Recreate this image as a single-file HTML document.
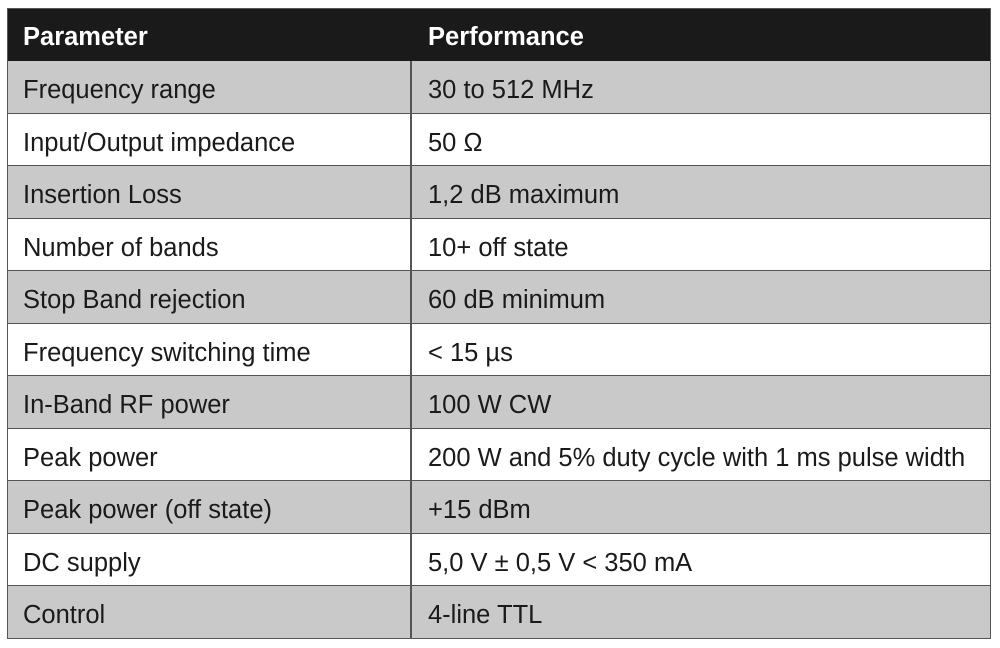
<!DOCTYPE html>
<html><head><meta charset="utf-8"><style>
body{margin:0;width:1000px;height:648px;background:#fff;position:relative;font-family:"Liberation Sans",sans-serif;overflow:hidden}
.r{position:absolute;left:7px;width:984px;height:52.5px;border-bottom:1.5px solid #555;box-sizing:border-box}
.g{background:#c9c9c9}
.h{background:#1a1a1a;color:#fff;font-weight:bold;top:8px;height:53px;border:none}
.c{position:absolute;top:3px;line-height:52px;font-size:25.5px;color:#1a1a1a;white-space:nowrap}
.h .c{color:#fff}
.a{left:16px}.b{left:421px}
.v{position:absolute;left:410px;top:61px;width:1.5px;height:578px;background:#555}
.f{position:absolute;left:7px;top:8px;width:984px;height:631px;border:1.5px solid #555;box-sizing:border-box}
</style></head><body>
<div class="r h"><span class="c a">Parameter</span><span class="c b">Performance</span></div>
<div class="r g" style="top:61px"><span class="c a">Frequency range</span><span class="c b">30 to 512 MHz</span></div>
<div class="r" style="top:113.5px"><span class="c a">Input/Output impedance</span><span class="c b">50 Ω</span></div>
<div class="r g" style="top:166px"><span class="c a">Insertion Loss</span><span class="c b">1,2 dB maximum</span></div>
<div class="r" style="top:218.5px"><span class="c a">Number of bands</span><span class="c b">10+ off state</span></div>
<div class="r g" style="top:271px"><span class="c a">Stop Band rejection</span><span class="c b">60 dB minimum</span></div>
<div class="r" style="top:323.5px"><span class="c a">Frequency switching time</span><span class="c b">&lt; 15 µs</span></div>
<div class="r g" style="top:376px"><span class="c a">In-Band RF power</span><span class="c b">100 W CW</span></div>
<div class="r" style="top:428.5px"><span class="c a">Peak power</span><span class="c b">200 W and 5% duty cycle with 1 ms pulse width</span></div>
<div class="r g" style="top:481px"><span class="c a">Peak power (off state)</span><span class="c b">+15 dBm</span></div>
<div class="r" style="top:533.5px"><span class="c a">DC supply</span><span class="c b">5,0 V ± 0,5 V &lt; 350 mA</span></div>
<div class="r g" style="top:586px"><span class="c a">Control</span><span class="c b">4-line TTL</span></div>
<div class="v"></div>
<div class="f"></div>
</body></html>
